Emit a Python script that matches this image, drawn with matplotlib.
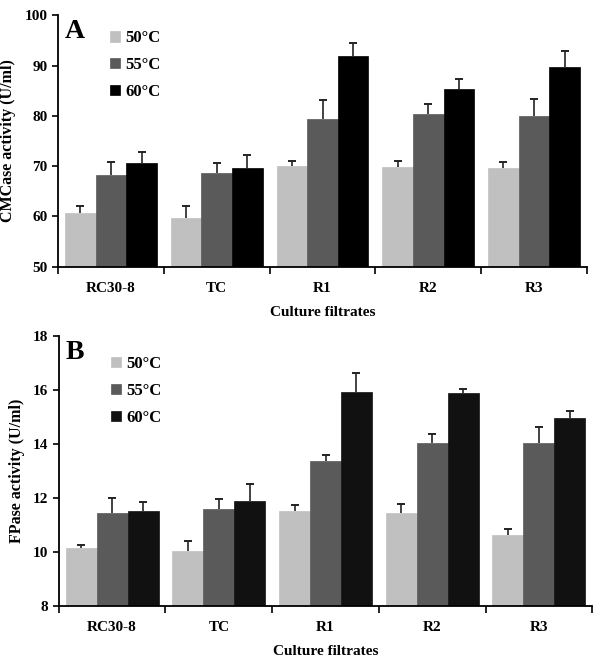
import matplotlib
matplotlib.use('Agg')
import matplotlib.pyplot as plt
import numpy as np

plt.rcParams['font.family'] = ['Liberation Serif', 'DejaVu Serif']
plt.rcParams['font.weight'] = 'bold'

filtrates = ['RC30-8', 'TC', 'R1', 'R2', 'R3']
temps = ['50°C', '55°C', '60°C']

# CMCase activity (U/ml), mean and upper error
cmc_50 = [60.7, 59.6, 70.1, 69.8, 69.6]
cmc_55 = [68.2, 68.6, 79.4, 80.4, 80.0]
cmc_60 = [70.6, 69.6, 91.9, 85.4, 89.8]
cmc_err_50 = [1.4, 2.4, 0.9, 1.2, 1.3]
cmc_err_55 = [2.6, 2.0, 3.7, 2.0, 3.3]
cmc_err_60 = [2.3, 2.6, 2.6, 2.0, 3.1]

# FPase activity (U/ml)
fp_50 = [10.12, 10.03, 11.50, 11.43, 10.61]
fp_55 = [11.43, 11.59, 13.36, 14.03, 14.04]
fp_60 = [11.49, 11.89, 15.93, 15.87, 14.95]
fp_err_50 = [0.12, 0.35, 0.24, 0.32, 0.24]
fp_err_55 = [0.55, 0.36, 0.23, 0.33, 0.57]
fp_err_60 = [0.36, 0.60, 0.67, 0.16, 0.27]


def draw_panel(ax, vals, errs, colors, ylim, yticks, ylabel, letter, leg_y):
    x = np.arange(len(filtrates))
    w = 0.29
    for i, (v, e, c, t) in enumerate(zip(vals, errs, colors, temps)):
        xs = x + (i - 1) * w
        v = np.array(v)
        top = v + np.array(e)
        ax.bar(xs, v, width=w, color=c, label=t, edgecolor=c,
               linewidth=0.5, zorder=2)
        # upper-only error bars
        ax.vlines(xs, v, top, colors='#222222', linewidth=1.2, zorder=3)
        ax.plot(xs, top, ls='none', marker='_', ms=6, mew=1.4,
                color='#222222', zorder=3)
    ax.set_xlim(-0.5, len(filtrates) - 0.5)
    ax.set_ylim(*ylim)
    ax.set_yticks(yticks)
    ax.set_xticks(np.arange(len(filtrates) + 1) - 0.5)
    ax.set_xticklabels([])
    ax.set_xticks(x, minor=True)
    ax.set_xticklabels(filtrates, minor=True, fontsize=11, fontweight='bold')
    ax.tick_params(axis='x', which='minor', length=0, pad=11)
    ax.tick_params(axis='x', which='major', length=5, width=1.2, direction='out')
    ax.tick_params(axis='y', length=4, width=1.2, labelsize=11)
    for lab in ax.get_yticklabels():
        lab.set_fontweight('bold')
    for s in ['top', 'right']:
        ax.spines[s].set_visible(False)
    for s in ['left', 'bottom']:
        ax.spines[s].set_linewidth(1.3)
    ax.set_ylabel(ylabel, fontsize=11.5, fontweight='bold', labelpad=6)
    ax.set_xlabel('Culture filtrates', fontsize=11, fontweight='bold', labelpad=8)
    ax.text(0.012, 0.985, letter, transform=ax.transAxes, fontsize=20,
            fontweight='bold', va='top', ha='left')
    ax.legend(loc='upper left', bbox_to_anchor=(0.07, leg_y), frameon=False,
              handlelength=0.6, handleheight=0.6, handletextpad=0.3,
              labelspacing=0.65, prop=dict(size=12, weight='bold'))


fig = plt.figure(figsize=(6, 6.62), dpi=100)
ax1 = fig.add_axes([0.097, 0.597, 0.881, 0.38])
ax2 = fig.add_axes([0.098, 0.085, 0.889, 0.408])

draw_panel(ax1, [cmc_50, cmc_55, cmc_60], [cmc_err_50, cmc_err_55, cmc_err_60],
           ['#c0c0c0', '#5a5a5a', '#000000'], (50, 100), range(50, 101, 10),
           'CMCase activity (U/ml)', 'A', 1.0)
draw_panel(ax2, [fp_50, fp_55, fp_60], [fp_err_50, fp_err_55, fp_err_60],
           ['#c0c0c0', '#5a5a5a', '#111111'], (8, 18), range(8, 19, 2),
           'FPase activity (U/ml)', 'B', 0.98)

fig.savefig('out.png', dpi=100)
